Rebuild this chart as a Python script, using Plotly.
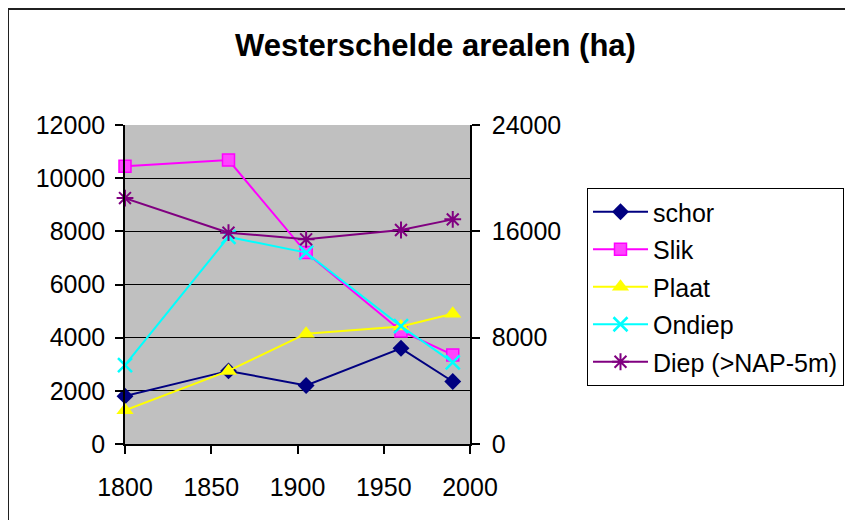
import plotly.graph_objects as go

years = [1800, 1860, 1905, 1960, 1990]
schor = [1800, 2750, 2200, 3600, 2350]
slik = [10450, 10680, 7200, 4250, 3350]
plaat = [1270, 2750, 4150, 4420, 4900]
ondiep = [2970, 7790, 7200, 4430, 3070]
diep = [18500, 15900, 15400, 16100, 16900]  # secondary axis

title = "Westerschelde arealen (ha)"
x_ticks = [1800, 1850, 1900, 1950, 2000]
y_ticks = [0, 2000, 4000, 6000, 8000, 10000, 12000]
y2_ticks = [0, 8000, 16000, 24000]

FONT = "Liberation Sans, Arial, sans-serif"

fig = go.Figure()

series = [
    ("schor", schor, "#000080", dict(symbol="diamond", size=13, color="#000080"), "y"),
    ("Slik", slik, "#FF00FF", dict(symbol="square", size=12, color="#FF44FF", line=dict(color="#FF00FF", width=1.5)), "y"),
    ("Plaat", plaat, "#FFFF00", dict(symbol="triangle-up", size=15, color="#FFFF00"), "y"),
    ("Ondiep", ondiep, "#00FFFF", dict(symbol="x-thin", size=14, color="#00FFFF", line=dict(color="#00FFFF", width=2.5)), "y"),
    ("Diep (>NAP-5m)", diep, "#800080", dict(symbol="asterisk", size=14, color="#800080", line=dict(color="#800080", width=2)), "y2"),
]

for i, (name, vals, col, mk, ax) in enumerate(series):
    fig.add_trace(go.Scatter(
        x=years, y=vals, name=name, mode="lines+markers",
        line=dict(color=col, width=2), marker=mk, yaxis=ax,
        cliponaxis=False, legendgroup=f"g{i}",
    ))

# page body has an 8px margin: shift everything by that offset
OFF = 8
W, H = 853 - OFF, 520 - OFF
L, R, T, B = 125 - OFF, 470 - OFF, 125 - OFF, 444 - OFF
pw, ph = R - L, B - T

def px(xp):
    return (xp - OFF - L) / pw

def py(yp):
    return (B - (yp - OFF)) / ph

fig.update_layout(
    width=W, height=H,
    margin=dict(l=L, r=W - R, t=T, b=H - B, pad=0, autoexpand=False),
    paper_bgcolor="white",
    plot_bgcolor="#C0C0C0",
    font=dict(family=FONT, size=25, color="black"),
    title=dict(text=title, x=((233 + 638) / 2 - OFF) / W, xanchor="center",
               y=1 - (45 - OFF) / H, yanchor="middle",
               font=dict(family=FONT, size=31, color="black", weight="bold")),
    showlegend=True,
    legend=dict(
        x=px(587), y=py(188), xanchor="left", yanchor="top",
        bgcolor="white", bordercolor="black", borderwidth=1,
        font=dict(family=FONT, size=25, color="black"),
        tracegroupgap=2, itemwidth=55,
    ),
    xaxis=dict(
        range=[1800, 2000], tickvals=x_ticks, ticktext=[str(v) for v in x_ticks],
        showgrid=False, zeroline=False, showline=True, linecolor="black", linewidth=1.5,
        ticks="outside", ticklen=8, tickcolor="black", tickwidth=1.5,
        ticklabelstandoff=12,
    ),
    yaxis=dict(
        range=[0, 12000], tickvals=y_ticks, ticktext=[str(v) for v in y_ticks],
        showgrid=True, gridcolor="black", gridwidth=1, zeroline=False,
        showline=True, linecolor="black", linewidth=1.5,
        ticks="outside", ticklen=8, tickcolor="black", tickwidth=1.5,
        ticklabelstandoff=5,
    ),
    yaxis2=dict(
        range=[0, 24000], tickvals=y2_ticks, ticktext=[str(v) for v in y2_ticks],
        overlaying="y", side="right", showgrid=False, zeroline=False,
        showline=True, linecolor="black", linewidth=1.5,
        ticks="outside", ticklen=8, tickcolor="black", tickwidth=1.5,
        ticklabelstandoff=7,
    ),
    shapes=[dict(type="rect", xref="paper", yref="paper",
                 x0=px(8), x1=px(900), y0=py(560), y1=py(9),
                 line=dict(color="#202020", width=2), fillcolor="rgba(0,0,0,0)",
                 layer="below")],
)

fig.write_html("out.html")
